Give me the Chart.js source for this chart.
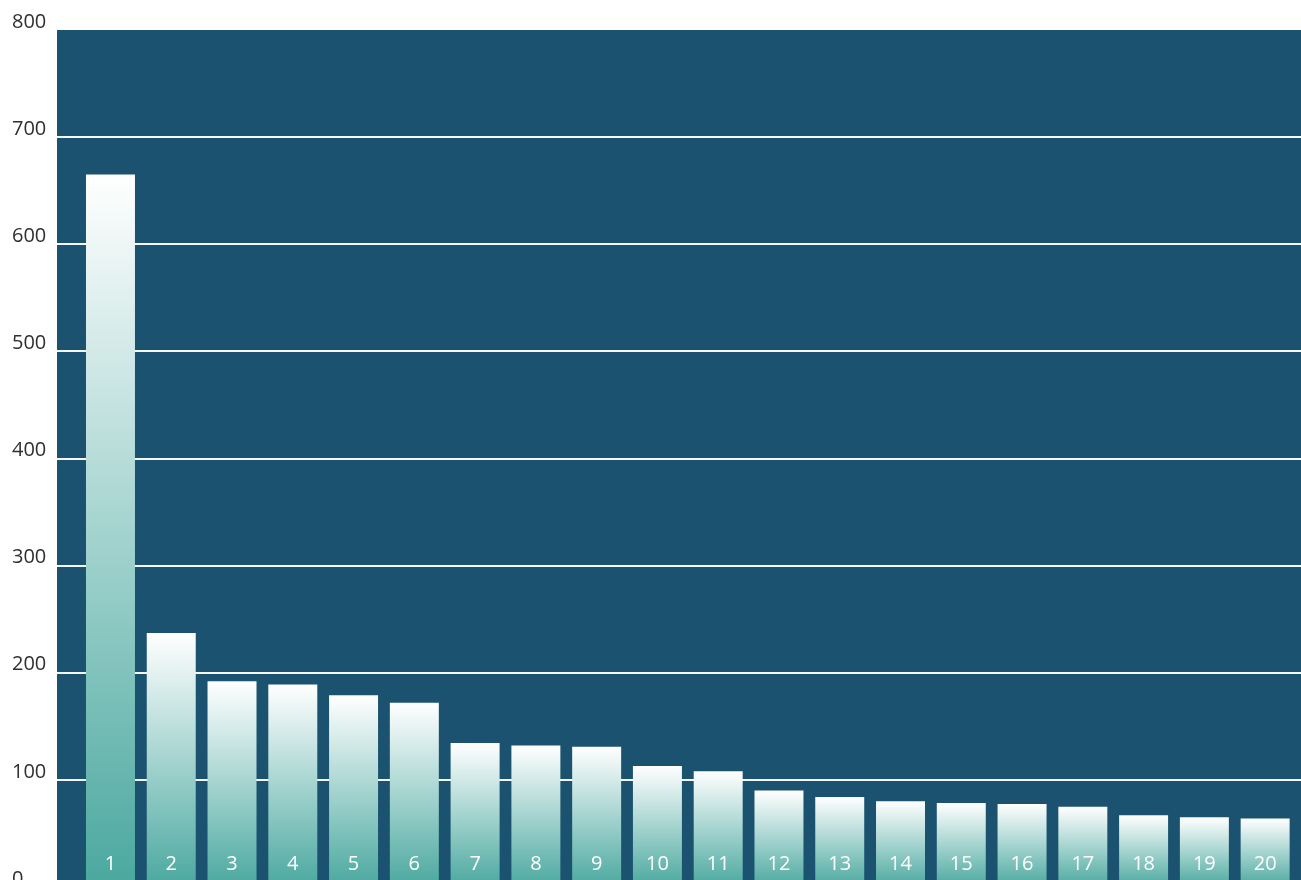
<!DOCTYPE html>
<html>
<head>
<meta charset="utf-8">
<title>Ranking</title>
<script src="https://cdn.jsdelivr.net/npm/chart.js@4.4.0/dist/chart.umd.min.js"></script>
<style>
    html, body { margin: 0; padding: 0; background: #ffffff; overflow: hidden; }
    #caixa { position: relative; width: 1301px; height: 900px; }
</style>
</head>
<body>
<div id="caixa"><canvas id="chartRanking"></canvas></div>
<script>
// dados
const categorias = ['1', '2', '3', '4', '5', '6', '7', '8', '9', '10',
                    '11', '12', '13', '14', '15', '16', '17', '18', '19', '20'];
const valores = [665, 237, 192, 189, 179, 172, 134.5, 132, 131, 113,
                 108, 90, 84, 80, 78.5, 77.5, 75, 67, 65, 64];
const ticksY = [0, 100, 200, 300, 400, 500, 600, 700, 800];

const corFundo = '#1a5270';

// pinta a area do grafico
const fundoArea = {
    id: 'fundoArea',
    beforeDraw: function (chart) {
        const ctx = chart.ctx;
        const a = chart.chartArea;
        ctx.save();
        ctx.fillStyle = corFundo;
        ctx.fillRect(a.left, a.top, a.right - a.left, a.bottom - a.top);
        ctx.restore();
    }
};

// numeros dentro das barras, perto da base
const rotulosBarras = {
    id: 'rotulosBarras',
    afterDatasetsDraw: function (chart) {
        const ctx = chart.ctx;
        const x = chart.scales.x;
        const y = chart.scales.y;
        ctx.save();
        ctx.fillStyle = '#ffffff';
        ctx.font = "20px 'Open Sans', sans-serif";
        ctx.textAlign = 'center';
        ctx.textBaseline = 'middle';
        for (var i = 0; i < categorias.length; i++) {
            ctx.fillText(categorias[i], x.getPixelForValue(i + 1), y.getPixelForValue(0) - 23);
        }
        ctx.restore();
    }
};

function gradienteBarra(context) {
    const chart = context.chart;
    if (!chart.chartArea || !context.parsed) {
        return '#ffffff';
    }
    const y = chart.scales.y;
    const topo = y.getPixelForValue(context.parsed.y);
    const base = y.getPixelForValue(0);
    const g = chart.ctx.createLinearGradient(0, topo, 0, base);
    g.addColorStop(0, '#ffffff');
    g.addColorStop(1, '#4aa89f');
    return g;
}

carregarGrafico = function () {
    let pontos = [];
    for (var i = 0; i < valores.length; i++) {
        pontos[i] = { x: i + 1, y: valores[i] };
    }

    Chart.defaults.font.family = "'Open Sans', sans-serif";

    const config = {
        type: 'bar',
        data: {
            datasets: [{
                label: 'Valores',
                data: pontos,
                backgroundColor: gradienteBarra,
                borderWidth: 0,
                categoryPercentage: 1.0,
                barPercentage: 0.806
            }]
        },
        options: {
            responsive: true,
            maintainAspectRatio: false,
            animation: false,
            layout: {
                padding: { top: 30, left: 12, right: 0, bottom: 13 }
            },
            plugins: {
                legend: { display: false },
                tooltip: { enabled: false }
            },
            scales: {
                x: {
                    type: 'linear',
                    display: false,
                    min: 0.12,
                    max: 20.59,
                    offset: false,
                    grid: { display: false },
                    ticks: { stepSize: 1, includeBounds: false }
                },
                y: {
                    min: 0,
                    max: 800,
                    border: { display: false },
                    afterBuildTicks: function (scale) {
                        scale.ticks = ticksY.map(function (v) { return { value: v }; });
                    },
                    afterFit: function (scale) {
                        scale.width = 45;
                    },
                    grid: {
                        drawTicks: false,
                        lineWidth: 2,
                        color: function (c) {
                            return (c.tick && c.tick.value === 800) ? 'rgba(0,0,0,0)' : '#f4f6f7';
                        }
                    },
                    ticks: {
                        crossAlign: 'far',
                        padding: 0,
                        labelOffset: -8,
                        color: '#2f2f2f',
                        font: { size: 20 }
                    }
                }
            }
        },
        plugins: [fundoArea, rotulosBarras]
    };

    new Chart(
        document.getElementById('chartRanking'),
        config
    );
}

carregarGrafico();
</script>
</body>
</html>
